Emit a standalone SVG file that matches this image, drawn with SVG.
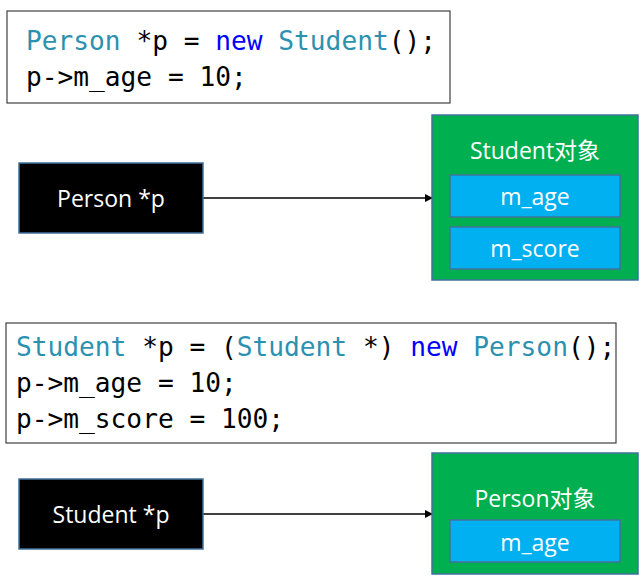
<svg xmlns="http://www.w3.org/2000/svg" width="643" height="582" viewBox="0 0 643 582">
<defs>
<style>
.code{font-family:"DejaVu Sans Mono","Liberation Mono",monospace;font-size:26.2px;fill:#000}
.t{fill:#2b91af}.k{fill:#0000ff}
.codebox{fill:#fff;stroke:#404040;stroke-width:1.2}
.ptr{fill:#000;stroke:#41719c;stroke-width:1.5}
.obj{fill:#00b050;stroke:#41719c;stroke-width:1.5}
.fld{fill:#00b0f0;stroke:#41719c;stroke-width:1.5}
.lbl{font-family:"Open Sans","Liberation Sans","Noto Sans CJK SC",sans-serif;fill:#fff;text-anchor:middle;font-size:23px}
.conn{stroke:#000;stroke-width:1.5;fill:none;marker-end:url(#ah)}
</style>
<marker id="ah" markerWidth="8" markerHeight="8" refX="7" refY="4" orient="auto" markerUnits="userSpaceOnUse">
<path d="M0,0 L8,4 L0,8 Z" fill="#000"/>
</marker>
</defs>
<g id="code1">
<rect class="codebox" x="7" y="11" width="443" height="92"/>
<text class="code" x="26" y="50"><tspan class="t">Person</tspan> *p = <tspan class="k">new</tspan> <tspan class="t">Student</tspan>();</text>
<text class="code" x="26" y="86">p-&gt;m_age = 10;</text>
</g>
<g id="code2">
<rect class="codebox" x="6" y="323" width="610" height="120"/>
<text class="code" x="16" y="356"><tspan class="t">Student</tspan> *p = (<tspan class="t">Student</tspan> *) <tspan class="k">new</tspan> <tspan class="t">Person</tspan>();</text>
<text class="code" x="16" y="392">p-&gt;m_age = 10;</text>
<text class="code" x="16" y="428">p-&gt;m_score = 100;</text>
</g>
<g id="connectors">
<line class="conn" x1="203" y1="198" x2="432" y2="198"/>
<line class="conn" x1="203" y1="514" x2="432" y2="514"/>
</g>
<g id="personPtr">
<rect class="ptr" x="19" y="163" width="184" height="70"/>
<text class="lbl" x="111" y="207">Person *p</text>
</g>
<g id="studentObj">
<rect class="obj" x="432" y="115" width="206" height="165"/>
<text class="lbl" x="535" y="159" font-size="26">Student对象</text>
<rect class="fld" x="450" y="175" width="170" height="42"/>
<text class="lbl" x="535" y="205" font-size="25">m_age</text>
<rect class="fld" x="450" y="227" width="170" height="42"/>
<text class="lbl" x="535" y="257" font-size="25">m_score</text>
</g>
<g id="studentPtr">
<rect class="ptr" x="19" y="479" width="184" height="70"/>
<text class="lbl" x="111" y="523">Student *p</text>
</g>
<g id="personObj">
<rect class="obj" x="432" y="453" width="206" height="121"/>
<text class="lbl" x="535" y="507" font-size="26">Person对象</text>
<rect class="fld" x="450" y="520" width="170" height="42"/>
<text class="lbl" x="535" y="551" font-size="25">m_age</text>
</g>
</svg>
